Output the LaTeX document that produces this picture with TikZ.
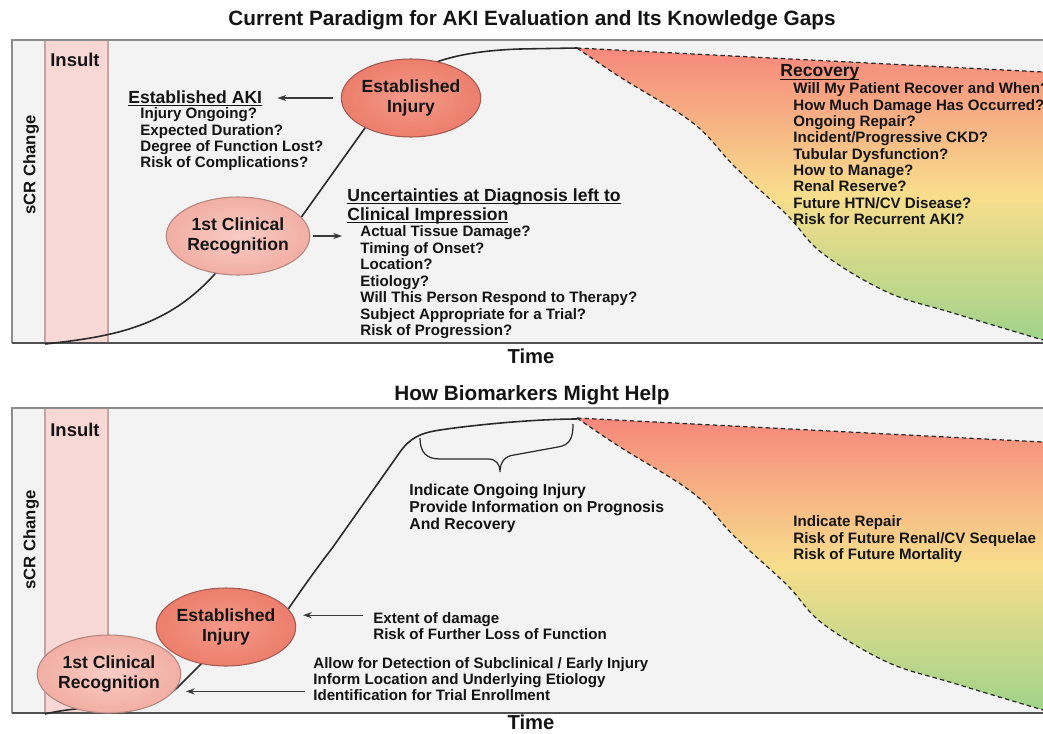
\documentclass[tikz,border=0pt]{standalone}
\usepackage{fontspec}
\setmainfont{Liberation Sans}
\usetikzlibrary{positioning, arrows.meta, shapes.geometric, calc}

\definecolor{panelbg}{HTML}{F3F3F3}
\definecolor{insultpink}{HTML}{F8D8D5}
\definecolor{insultedge}{HTML}{C8A4A1}
\definecolor{framegray}{HTML}{8C8C8C}
\definecolor{axisgray}{HTML}{505050}
\definecolor{arrowgray}{HTML}{3A3A3A}
\definecolor{curveink}{HTML}{2A2A2A}
\definecolor{injuryin}{HTML}{F59A8A}
\definecolor{injuryout}{HTML}{EC7E6C}
\definecolor{injuryrim}{HTML}{A35A52}
\definecolor{clinin}{HTML}{F9CCC4}
\definecolor{clinout}{HTML}{F2AEA4}
\definecolor{clinrim}{HTML}{B5857E}
\definecolor{recred}{HTML}{F6877C}
\definecolor{recyellow}{HTML}{F8DE8C}
\definecolor{recgreen}{HTML}{9ED38A}
\definecolor{inktext}{HTML}{141414}

% underline set close under the baseline
\newsavebox{\ulbox}
\newcommand{\ulbar}[1]{\sbox{\ulbox}{#1}\rlap{\rule[-1.8pt]{\wd\ulbox}{0.6pt}}\usebox{\ulbox}}

\begin{document}
\begin{tikzpicture}[
  x=0.02cm, y=-0.02cm,
  paneltitle/.style={font=\fontsize{11.8}{13}\selectfont\bfseries, text=inktext, inner sep=0},
  axislabel/.style={font=\fontsize{11.5}{13}\selectfont\bfseries, text=inktext, inner sep=0},
  insultlabel/.style={font=\fontsize{10.5}{12}\selectfont\bfseries, text=inktext, inner sep=0, anchor=west},
  scrlabel/.style={font=\fontsize{9.5}{11}\selectfont\bfseries, text=inktext, inner sep=0, rotate=90},
  heading/.style={font=\fontsize{10}{10.8}\selectfont\bfseries, text=inktext, align=left, anchor=north west, inner sep=0},
  qlist/.style={font=\fontsize{8.6}{9.3}\selectfont\bfseries, text=inktext, align=left, anchor=north west, inner sep=0},
  injury/.style={
    ellipse,
    draw=injuryrim,
    line width=0.6pt,
    inner color=injuryin,
    outer color=injuryout,
    minimum width=2.64cm,
    minimum height=1.56cm,
    inner sep=0,
    align=center,
    text=inktext,
    font=\fontsize{10}{11.3}\selectfont\bfseries
  },
  clinical/.style={injury, draw=clinrim, inner color=clinin, outer color=clinout},
  arrow/.style={-{Stealth[length=5pt, width=3.5pt]}, line width=0.6pt, draw=arrowgray},
  scurve/.style={line width=0.9pt, draw=curveink},
  recline/.style={line width=0.7pt, draw=curveink, dash pattern=on 2.5pt off 1.8pt},
  recfill/.style={top color=recred, bottom color=recgreen, middle color=recyellow}
]

  \useasboundingbox (0,0) rectangle (1043,733);

  % Top panel: background, insult band, recovery zone, frame
  \fill[panelbg] (12,40) rectangle (1043,343);
  \fill[insultpink] (45,40) rectangle (108,343);
  \draw[insultedge, line width=0.6pt] (45,40) -- (45,343) (108,40) -- (108,343);
  \path[recfill] (577,48) -- (1043,72) -- (1043,343) -- plot[smooth, tension=0.6] coordinates
    {(1043,340) (953,313) (887,292) (822,253) (787,215) (735,167) (693,123) (620,77) (577,48)} -- cycle;
  \draw[recline] (577,48) -- (1043,72);
  \draw[recline] plot[smooth, tension=0.6] coordinates
    {(577,48) (620,77) (693,123) (735,167) (787,215) (822,253) (887,292) (953,313) (1043,340)};
  \draw[framegray, line width=0.8pt] (1043,40) -- (12,40) -- (12,343);
  \draw[axisgray, line width=1.1pt] (12,343) -- (1043,343);

  % Bottom panel
  \fill[panelbg] (12,408) rectangle (1043,713);
  \fill[insultpink] (45,408) rectangle (108,713);
  \draw[insultedge, line width=0.6pt] (45,408) -- (45,713) (108,408) -- (108,713);
  \path[recfill] (577,418) -- (1043,442) -- (1043,713) -- plot[smooth, tension=0.6] coordinates
    {(1043,710) (953,683) (887,662) (822,623) (787,585) (735,537) (693,493) (620,447) (577,418)} -- cycle;
  \draw[recline] (577,418) -- (1043,442);
  \draw[recline] plot[smooth, tension=0.6] coordinates
    {(577,418) (620,447) (693,493) (735,537) (787,585) (822,623) (887,662) (953,683) (1043,710)};
  \draw[framegray, line width=0.8pt] (1043,408) -- (12,408) -- (12,713);
  \draw[axisgray, line width=1.1pt] (12,713) -- (1043,713);

  % sCR curves
  \draw[scurve] (45,344) .. controls (120,336) and (175,325) .. (225,262) -- (280,247) -- (375,114)
    .. controls (395,76) and (430,52) .. (520,49) -- (577,48);
  \draw[scurve] (45,714) .. controls (95,702) and (150,712) .. (177,688) -- (215,650) -- (272,632)
    .. controls (285,615) and (300,590) .. (333,547) -- (400,452)
    .. controls (410,438) and (420,433) .. (440,430) .. controls (480,424) and (540,419) .. (577,419);

  % Brace over the plateau
  \draw[line width=0.7pt, draw=curveink] (420,438) .. controls (420,452) and (426,459) .. (440,459)
    -- (488,459) .. controls (496,459) and (500,464) .. (500,472)
    .. controls (500,462) and (505,456) .. (514,455) -- (558,447)
    .. controls (570,445) and (573,438) .. (573,424);

  % Labels, top panel
  \node (title1) [paneltitle] at (532,20) {Current Paradigm for AKI Evaluation and Its Knowledge Gaps};
  \node (insult1) [insultlabel] at (50,60) {Insult};
  \node (scr1) [scrlabel] at (31,165) {sCR Change};
  \node (time1) [axislabel] at (531,356) {Time};

  \node (estT) [injury] at (411,98) {Established\\Injury};
  \node (clinT) [clinical] at (238,236) {1st Clinical\\Recognition};

  \node (aki) [heading] at (128,90) {\ulbar{Established AKI}};
  \node (akiq) [qlist] at (140,107.5) {Injury Ongoing?\\Expected Duration?\\Degree of Function Lost?\\Risk of Complications?};
  \node (unc) [heading] at (347,188) {\ulbar{Uncertainties at Diagnosis left to}\\\ulbar{Clinical Impression}};
  \node (uncq) [qlist, font=\fontsize{8.6}{9.4}\selectfont\bfseries] at (360,225.5)
    {Actual Tissue Damage?\\Timing of Onset?\\Location?\\Etiology?\\Will This Person Respond to Therapy?\\Subject Appropriate for a Trial?\\Risk of Progression?};
  \node (rec) [heading] at (780,64) {\ulbar{Recovery}};
  \node (recq) [qlist] at (793,82.5)
    {Will My Patient Recover and When?\\How Much Damage Has Occurred?\\Ongoing Repair?\\Incident/Progressive CKD?\\Tubular Dysfunction?\\How to Manage?\\Renal Reserve?\\Future HTN/CV Disease?\\Risk for Recurrent AKI?};

  % Labels, bottom panel
  \node (title2) [paneltitle] at (532,395) {How Biomarkers Might Help};
  \node (insult2) [insultlabel] at (50,430) {Insult};
  \node (scr2) [scrlabel] at (31,540) {sCR Change};
  \node (time2) [axislabel] at (531,722) {Time};

  \node (estB) [injury] at (226,627) {Established\\Injury};
  \node (clinB) [clinical] at (109,674) {1st Clinical\\Recognition};

  \node (ongoing) [qlist, font=\fontsize{9}{9.6}\selectfont\bfseries] at (409,484)
    {Indicate Ongoing Injury\\Provide Information on Prognosis\\And Recovery};
  \node (repair) [qlist] at (793,515.5) {Indicate Repair\\Risk of Future Renal/CV Sequelae\\Risk of Future Mortality};
  \node (extent) [qlist] at (373,612) {Extent of damage\\Risk of Further Loss of Function};
  \node (allow) [qlist] at (313,657)
    {Allow for Detection of Subclinical / Early Injury\\Inform Location and Underlying Etiology\\Identification for Trial Enrollment};

  % Arrows
  \draw [arrow, shorten <=0.16cm, shorten >=0.3cm] (estT.west) -- (aki.east |- estT.west);
  \draw [arrow, shorten <=0.06cm, shorten >=0.1cm] (clinT.east) -- (unc.west |- clinT.east);
  \draw [arrow, shorten <=0.2cm, shorten >=0.2cm] (extent.west |- estB.10) -- (estB.10);
  \draw [arrow, shorten <=0.16cm, shorten >=0.24cm] (allow.west |- clinB.-15) -- (clinB.-15);

\end{tikzpicture}
\end{document}
